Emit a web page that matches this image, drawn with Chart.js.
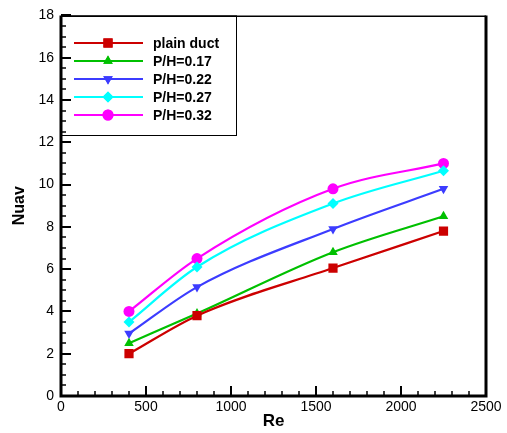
<!DOCTYPE html>
<html>
<head>
<meta charset="utf-8">
<script src="https://cdn.jsdelivr.net/npm/chart.js@4.4.1/dist/chart.umd.min.js"></script>
<style>
  html, body { margin: 0; padding: 0; background: #fff; }
  #wrap { width: 507px; height: 433px; }
</style>
</head>
<body>
<div id="wrap"><canvas id="chart"></canvas></div>
<script>
// values
const reValues = [400, 800, 1600, 2250];
const plainDuct = [2.0, 3.8, 6.05, 7.8];
const ph017 = [2.5, 3.9, 6.8, 8.5];
const ph022 = [2.95, 5.15, 7.9, 9.8];
const ph027 = [3.5, 6.1, 9.1, 10.65];
const ph032 = [4.0, 6.5, 9.8, 11.0];
const seriesNames = ['plain duct', 'P/H=0.17', 'P/H=0.22', 'P/H=0.27', 'P/H=0.32'];
const xTicks = [0, 500, 1000, 1500, 2000, 2500];
const yTicks = [0, 2, 4, 6, 8, 10, 12, 14, 16, 18];

const FONT = '"Liberation Sans", Arial, sans-serif';

function pts(ys) {
  return reValues.map((x, i) => ({ x: x, y: ys[i] }));
}

function series(label, ys, color, style, radius, rotation) {
  return {
    label: label,
    data: pts(ys),
    showLine: true,
    borderColor: color,
    backgroundColor: color,
    borderWidth: 2.2,
    pointStyle: style,
    pointRadius: radius,
    pointRotation: rotation || 0,
    pointBorderWidth: 0,
    pointBackgroundColor: color,
    cubicInterpolationMode: 'monotone'
  };
}

// box, inward ticks and the boxed legend in the upper left
const framePlugin = {
  id: 'frame',
  afterDraw(chart) {
    const ctx = chart.ctx;
    const a = chart.chartArea;
    const xs = chart.scales.x, ys = chart.scales.y;
    ctx.save();
    ctx.strokeStyle = '#000';
    ctx.lineCap = 'butt';

    // minor + major ticks on x
    for (let v = 0; v <= 2500; v += 100) {
      const px = Math.round(xs.getPixelForValue(v));
      const major = v % 500 === 0;
      ctx.lineWidth = major ? 2 : 1.5;
      ctx.beginPath();
      ctx.moveTo(px, a.bottom);
      ctx.lineTo(px, a.bottom - (major ? 10 : 5));
      ctx.stroke();
    }
    // minor + major ticks on y
    for (let v = 0; v <= 18; v += 0.5) {
      const py = Math.round(ys.getPixelForValue(v));
      const major = v % 2 === 0;
      ctx.lineWidth = major ? 2 : 1.5;
      ctx.beginPath();
      ctx.moveTo(a.left, py);
      ctx.lineTo(a.left + (major ? 10 : 5), py);
      ctx.stroke();
    }

    // legend box
    const lx0 = a.left, ly0 = a.top, lx1 = 236, ly1 = 135;
    ctx.lineWidth = 1;
    ctx.strokeRect(lx0 + 0.5, ly0 + 0.5, lx1 - lx0, ly1 - ly0);
    ctx.font = 'bold 14px ' + FONT;
    ctx.textBaseline = 'middle';
    ctx.textAlign = 'left';
    chart.data.datasets.forEach((ds, i) => {
      const y = 43 + i * 18;
      ctx.strokeStyle = ds.borderColor;
      ctx.lineWidth = 2.2;
      ctx.beginPath();
      ctx.moveTo(74, y);
      ctx.lineTo(143, y);
      ctx.stroke();
      ctx.fillStyle = ds.backgroundColor;
      Chart.helpers.drawPoint(ctx, {
        pointStyle: ds.pointStyle,
        radius: ds.pointRadius,
        rotation: ds.pointRotation,
        borderWidth: 0
      }, 108, y);
      ctx.fill();
      ctx.fillStyle = '#000';
      ctx.fillText(ds.label, 153, y + 1);
    });

    // frame: thick left/bottom/right, thin top
    ctx.strokeStyle = '#000';
    ctx.lineWidth = 1.5;
    ctx.beginPath();
    ctx.moveTo(a.left, a.top + 0.75);
    ctx.lineTo(a.right, a.top + 0.75);
    ctx.stroke();
    ctx.lineWidth = 3;
    ctx.beginPath();
    ctx.moveTo(a.left, a.top);
    ctx.lineTo(a.left, a.bottom);
    ctx.lineTo(a.right, a.bottom);
    ctx.lineTo(a.right, a.top);
    ctx.stroke();
    ctx.restore();
  }
};

new Chart(document.getElementById('chart'), {
  type: 'scatter',
  data: {
    datasets: [
      series(seriesNames[0], plainDuct, '#cc0000', 'rect', 6.5),
      series(seriesNames[1], ph017, '#00c000', 'triangle', 5.5),
      series(seriesNames[2], ph022, '#3c3cff', 'triangle', 5.5, 180),
      series(seriesNames[3], ph027, '#00ffff', 'rectRot', 5.5),
      series(seriesNames[4], ph032, '#ff00ff', 'circle', 5.5)
    ]
  },
  options: {
    responsive: true,
    maintainAspectRatio: false,
    animation: false,
    layout: { padding: { top: 15, right: 21, left: 0, bottom: 0 } },
    plugins: { legend: { display: false }, tooltip: { enabled: false } },
    scales: {
      x: {
        type: 'linear', min: 0, max: 2500,
        afterFit: s => { s.height = 37; },
        afterBuildTicks: s => { s.ticks = xTicks.map(v => ({ value: v })); },
        grid: { display: false, drawTicks: false },
        border: { display: false },
        ticks: { color: '#000', padding: 3, maxRotation: 0, callback: v => String(v),
                 font: { family: FONT, size: 14 } },
        title: { display: true, text: 'Re', color: '#000', padding: { top: 0, bottom: 1 },
                 font: { family: FONT, size: 17, weight: 'bold' } }
      },
      y: {
        type: 'linear', min: 0, max: 18,
        afterFit: s => { s.width = 61; },
        afterBuildTicks: s => { s.ticks = yTicks.map(v => ({ value: v })); },
        grid: { display: false, drawTicks: false },
        border: { display: false },
        ticks: { color: '#000', padding: 7, callback: v => String(v),
                 font: { family: FONT, size: 14 } },
        title: { display: true, text: 'Nuav', color: '#000', padding: { top: 10, bottom: 0 },
                 font: { family: FONT, size: 16, weight: 'bold' } }
      }
    }
  },
  plugins: [framePlugin]
});
</script>
</body>
</html>
